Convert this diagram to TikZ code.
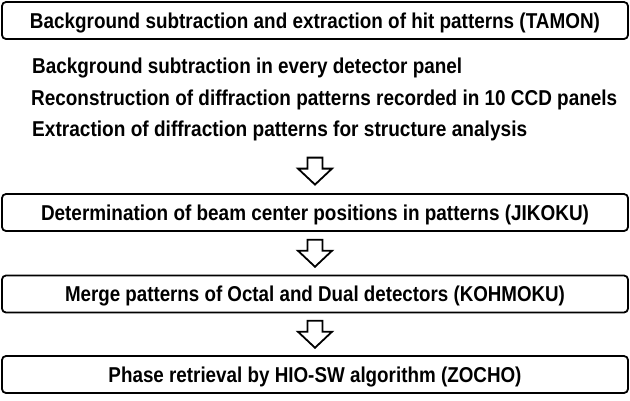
\documentclass[tikz,border=0pt]{standalone}
\usepackage{fontspec}
\usepackage{graphicx}
\setmainfont{Liberation Sans}
\usetikzlibrary{calc}
\newlength\fitlen
\newcommand\fitw[2]{\settowidth\fitlen{#2}\pgfmathsetmacro\fitsx{#1/\fitlen}\scalebox{\fitsx}[1]{#2}}
\begin{document}
\begin{tikzpicture}[x=1pt,y=-1pt,
  stagebox/.style={draw, line width=1.8pt, rounded corners=4pt, minimum width=626pt,
    minimum height=37pt, inner sep=0pt, text height=15.5pt, text depth=0pt,
    font=\fontsize{21.5pt}{24pt}\selectfont\bfseries},
  subline/.style={anchor=base west, inner sep=0pt, font=\fontsize{21.5pt}{24pt}\selectfont\bfseries},
  downarrow/.pic={\draw[line width=1.8pt, line join=miter, fill=white]
    (-7.5,-13.5) -- (7.5,-13.5) -- (7.5,-2.5) -- (17,-2.5) -- (0,13.5)
    -- (-17,-2.5) -- (-7.5,-2.5) -- cycle;}]
\useasboundingbox (0,0) rectangle (630,400);
\node[stagebox] (b1) at (315,20.5) {\fitw{570pt}{Background subtraction and extraction of hit patterns (TAMON)}};
\node[subline] (t1) at (32,73) {\fitw{430pt}{Background subtraction in every detector panel}};
\node[subline] (t2) at (31,105) {\fitw{586pt}{Reconstruction of diffraction patterns recorded in 10 CCD panels}};
\node[subline] (t3) at (32,136) {\fitw{495pt}{Extraction of diffraction patterns for structure analysis}};
\node[stagebox] (b2) at (315,212.5) {\fitw{548pt}{Determination of beam center positions in patterns (JIKOKU)}};
\node[stagebox] (b3) at (315,294) {\fitw{500pt}{Merge patterns of Octal and Dual detectors (KOHMOKU)}};
\node[stagebox] (b4) at (315,374.5) {\fitw{413pt}{Phase retrieval by HIO-SW algorithm (ZOCHO)}};
\coordinate (a1) at ($(b2.north)+(0,-22)$);
\coordinate (a2) at ($(b2.south)!0.5!(b3.north)$);
\coordinate (a3) at ($(b3.south)!0.5!(b4.north)$);
\pic at (a1) {downarrow};
\pic at (a2) {downarrow};
\pic at (a3) {downarrow};
\end{tikzpicture}
\end{document}
